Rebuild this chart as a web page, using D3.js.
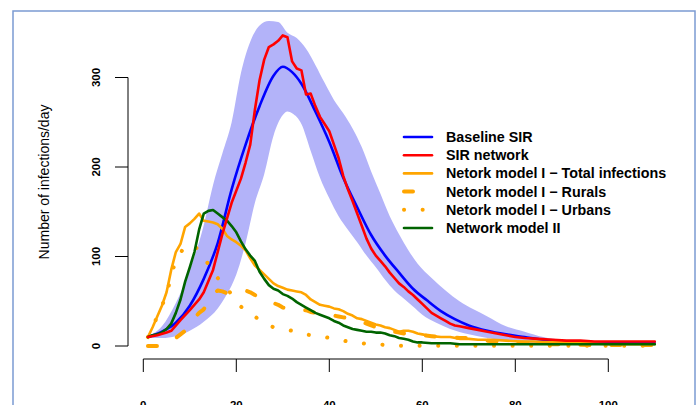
<!DOCTYPE html>
<html>
<head>
<meta charset="utf-8">
<script src="https://cdn.jsdelivr.net/npm/d3@7"></script>
<style>
  body { margin: 0; background: #fff; }
  svg { display: block; font-family: 'Liberation Sans', Arial, sans-serif; }
</style>
</head>
<body>
<div id="chart"></div>
<script>
// days and values
const baseline = [[1,10],[4,16],[7,26],[10,45],[13,75],[16,115],[19,175],[22,225],[25,268],[28,302],[30,312],[32,306],[34,293],[37,262],[40,228],[43,188],[46,155],[49,124],[52,101],[55,82],[58,64],[61,51],[64,39],[67,30],[70,23],[74,17],[78,13],[82,10],[86,7],[90,5],[95,4],[100,3.5],[105,3],[110,3]]

const bandUpper = [[1,11],[4,22],[7,48],[10,85],[13,135],[15,180],[17,215],[19,250],[21,305],[23,340],[25,358],[27,363],[29,362],[31,350],[33,344],[35,332],[37,314],[39,294],[41,275],[43,260],[45,243],[47,222],[49,195],[51,170],[53,145],[55,125],[57,107],[59,92],[62,76],[65,62],[68,50],[71,41],[74,33],[78,22],[82,16],[86,10],[90,7],[95,5],[100,4],[105,3],[110,3]]

const bandLower = [[1,9],[4,9],[7,11],[10,17],[13,27],[16,42],[18,58],[20,80],[22,115],[24,160],[26,192],[28,235],[30,258],[31,262],[32,260],[34,248],[36,218],[38,188],[40,165],[42,145],[44,130],[46,116],[48,101],[50,88],[52,74],[54,62],[56,53],[58,44],[60,35],[63,26],[66,19],[70,13],[74,9],[78,6],[82,4],[90,2],[100,1],[110,1]]

const sirNetwork = [[1,10],[3,12],[5,15],[6,17],[8,29],[10,40],[12,52],[13,60],[15,85],[17,125],[19,160],[21,187],[22,205],[23,225],[24,264],[25,297],[26,320],[27,334],[28,337],[29,341],[30,347],[31,345],[32,318],[33,310],[34,308],[35,281],[36,282],[37,268],[38,256],[39,248],[40,240],[41,225],[42,210],[43,190],[44,175],[45,162],[46,148],[47,134],[48,120],[49,109],[50,101],[51,95],[52,89],[53,82],[54,76],[55,70],[56,66],[57,61],[58,57],[59,52],[60,47],[61,42],[62,37],[63,34],[64,31],[65,28],[66,25],[67,23],[68,22],[70,20],[72,18],[74,16],[76,14],[78,12],[80,10],[82,9],[85,8],[88,7],[91,6],[94,6],[97,5],[100,5],[103,5],[106,5],[110,5]]

const netTotal = [[1,10],[2,21],[3,33],[4,45],[5,60],[6,85],[7,105],[8,114],[9,133],[10,137],[11,142],[12,148],[13,140],[14,139],[15,138],[16,136],[17,131],[18,123],[19,119],[20,116],[21,112],[22,107],[23,98],[24,90],[25,85],[26,80],[27,75],[28,70],[29,67],[30,65],[31,63],[32,62],[33,61],[34,60],[35,57],[36,52],[37,49],[38,46],[39,45],[40,44],[41,42],[42,41],[43,39],[44,36],[45,34],[46,31],[47,30],[48,28],[49,26],[50,24],[51,23],[52,21],[53,20],[54,18],[55,16],[56,17],[57,17],[58,16],[59,14],[60,13],[61,12],[62,11],[64,10],[66,10],[68,8],[70,8],[72,7],[75,7],[78,6],[81,5],[84,5],[87,4],[90,4],[93,3],[96,3],[100,2],[103,2],[106,2],[110,2]]

const netRurals = [[1,0],[2,0],[3,0],[4,1],[5,3],[6,6],[7,9],[8,13],[9,17],[10,24],[11,31],[12,37],[13,41],[14,50],[15,58],[16,62],[17,61],[18,59],[19,60],[20,61],[21,62],[22,62],[23,60],[24,57],[25,54],[26,52],[27,50],[28,48],[29,46],[30,43],[31,42],[32,41],[33,40],[34,40],[35,40],[36,38],[37,37],[38,36],[39,35],[40,35],[41,34],[42,33],[43,32],[44,31],[45,30],[46,28],[47,27],[48,25],[49,23],[50,21],[51,20],[52,19],[53,17],[54,16],[55,15],[56,14],[58,13],[60,12],[62,11],[64,10],[66,10],[68,9],[70,9],[72,7],[74,6],[76,5],[78,4],[80,4],[84,3],[88,2],[92,2],[96,1],[100,1],[105,1],[110,1]]

const netUrbans = [[1,10],[2,21],[3,33],[4,45],[5,57],[6,79],[7,96],[8,104],[9,112],[10,113],[11,112],[12,106],[13,100],[14,91],[15,83],[16,76],[17,70],[18,65],[19,57],[20,50],[21,44],[22,40],[23,37],[24,33],[25,29],[26,26],[27,23],[28,21],[29,20],[30,19],[31,18],[32,17],[33,15],[34,14],[35,13],[36,12],[37,11],[38,10.5],[39,10],[40,9],[41,8],[42,7],[43,6],[44,5],[45,4],[46,3.3],[47,3],[48,2.5],[49,2.2],[50,2],[52,1.2],[54,0.5],[56,0.3],[60,0.2],[70,0.2],[80,0.2],[90,0.2],[100,0.2],[110,0.2]]

const netModel2 = [[1,10],[2,12],[3,13],[4,15],[5,19],[6,25],[7,37],[8,52],[9,72],[10,88],[11,105],[12,130],[13,148],[14,151],[15,152],[16,148],[17,144],[18,140],[19,134],[20,127],[21,117],[22,108],[23,101],[24,95],[25,83],[26,75],[27,68],[28,64],[29,62],[30,58],[31,56],[32,53],[33,49],[34,46],[35,43],[36,40],[37,37],[38,35],[39,33],[40,31],[41,28],[42,26],[43,23],[44,21],[45,19],[46,18],[47,17],[48,16],[49,16],[50,15],[51,15],[52,14],[53,12],[54,11],[55,9],[56,8],[57,7],[58,5],[59,4],[60,4],[62,3],[64,3],[66,3],[68,2],[72,2],[76,2],[80,2],[85,2],[90,2],[95,2],[100,2],[105,2],[110,2]]

const xTicks = [0, 20, 40, 60, 80, 100]
const yTicks = [0, 100, 200, 300]
const legendLabels = ['Baseline SIR', 'SIR network', 'Netork model I \u2212 Total infections', 'Netork model I \u2212 Rurals', 'Netork model I \u2212 Urbans', 'Network model II']

const width = 699, height = 405

const svg = d3.select('#chart').append('svg')
  .attr('width', width)
  .attr('height', height)

// frame around the figure
svg.append('rect')
  .attr('x', 13).attr('y', 11)
  .attr('width', 682).attr('height', 420)
  .attr('fill', 'none')
  .attr('stroke', '#7b9bd2')
  .attr('stroke-width', 1.5)

const x = d3.scaleLinear().domain([0, 100]).range([143.3, 608.3])
const y = d3.scaleLinear().domain([0, 300]).range([346, 77.5])

// band: upper edge forward, lower edge back
const edge = d3.line().x((d) => x(d[0])).y((d) => y(d[1])).curve(d3.curveMonotoneX)
const lowerRev = bandLower.slice().reverse()
svg.append('path')
  .attr('d', edge(bandUpper) + 'L' + edge(lowerRev).slice(1) + 'Z')
  .attr('fill', '#b3b3f9')
  .attr('stroke', 'none')

const line = d3.line().x((d) => x(d[0])).y((d) => y(d[1]))

const series = [
  { data: baseline, color: '#0000ff', dash: null, w: 2.6, curve: d3.curveMonotoneX },
  { data: sirNetwork, color: '#ff0000', dash: null, w: 2.6 },
  { data: netTotal, color: '#ffa500', dash: null, w: 2.6 },
  { data: netRurals, color: '#ffa500', dash: '9,22', w: 4 },
  { data: netUrbans, color: '#ffa500', dash: '0.1,18.5', w: 4 },
  { data: netModel2, color: '#006400', dash: null, w: 2.6 }
]

const drawOrder = [0, 3, 4, 2, 5, 1]
drawOrder.forEach((i) => {
  const s = series[i]
  svg.append('path')
    .datum(s.data)
    .attr('d', line.curve(s.curve || d3.curveLinear))
    .attr('fill', 'none')
    .attr('stroke', s.color)
    .attr('stroke-width', s.w)
    .attr('stroke-linecap', 'round')
    .attr('stroke-linejoin', 'round')
    .attr('stroke-dasharray', s.dash)
})

// Y axis
const yAxis = svg.append('g').attr('transform', 'translate(128,0)')
yAxis.append('line')
  .attr('y1', y(0)).attr('y2', y(300))
  .attr('stroke', '#000')
yAxis.selectAll('.tick').data(yTicks).join('line')
  .attr('x1', -13).attr('x2', 0)
  .attr('y1', (d) => y(d)).attr('y2', (d) => y(d))
  .attr('stroke', '#000')
yAxis.selectAll('.lbl').data(yTicks).join('text')
  .attr('transform', (d) => `translate(-28,${y(d)}) rotate(-90)`)
  .attr('text-anchor', 'middle')
  .attr('font-size', '11.5px')
  .attr('font-weight', 'bold')
  .text((d) => d)

// X axis (labels sit partly below the window, as in the original)
const xAxis = svg.append('g').attr('transform', 'translate(0,359)')
xAxis.append('line')
  .attr('x1', x(0)).attr('x2', x(100))
  .attr('stroke', '#000')
xAxis.selectAll('.tick').data(xTicks).join('line')
  .attr('x1', (d) => x(d)).attr('x2', (d) => x(d))
  .attr('y1', 0).attr('y2', 13)
  .attr('stroke', '#000')
xAxis.selectAll('.lbl').data(xTicks).join('text')
  .attr('x', (d) => x(d))
  .attr('y', 50)
  .attr('text-anchor', 'middle')
  .attr('font-size', '11.5px')
  .attr('font-weight', 'bold')
  .text((d) => d)

// Y label
svg.append('text')
  .attr('transform', 'translate(49,182) rotate(-90)')
  .attr('text-anchor', 'middle')
  .attr('font-size', '14px')
  .text('Number of infections/day')

// legend
const legend = svg.append('g')
legendLabels.forEach((label, i) => {
  const s = series[i]
  const ly = 137 + i * 18.2
  legend.append('line')
    .attr('x1', 404).attr('x2', 432)
    .attr('y1', ly).attr('y2', ly)
    .attr('stroke', s.color)
    .attr('stroke-width', s.w)
    .attr('stroke-linecap', 'round')
    .attr('stroke-dasharray', s.dash)
  legend.append('text')
    .attr('x', 446).attr('y', ly + 5)
    .attr('font-size', '14.3px')
    .attr('font-weight', 'bold')
    .text(label)
})
</script>
</body>
</html>
